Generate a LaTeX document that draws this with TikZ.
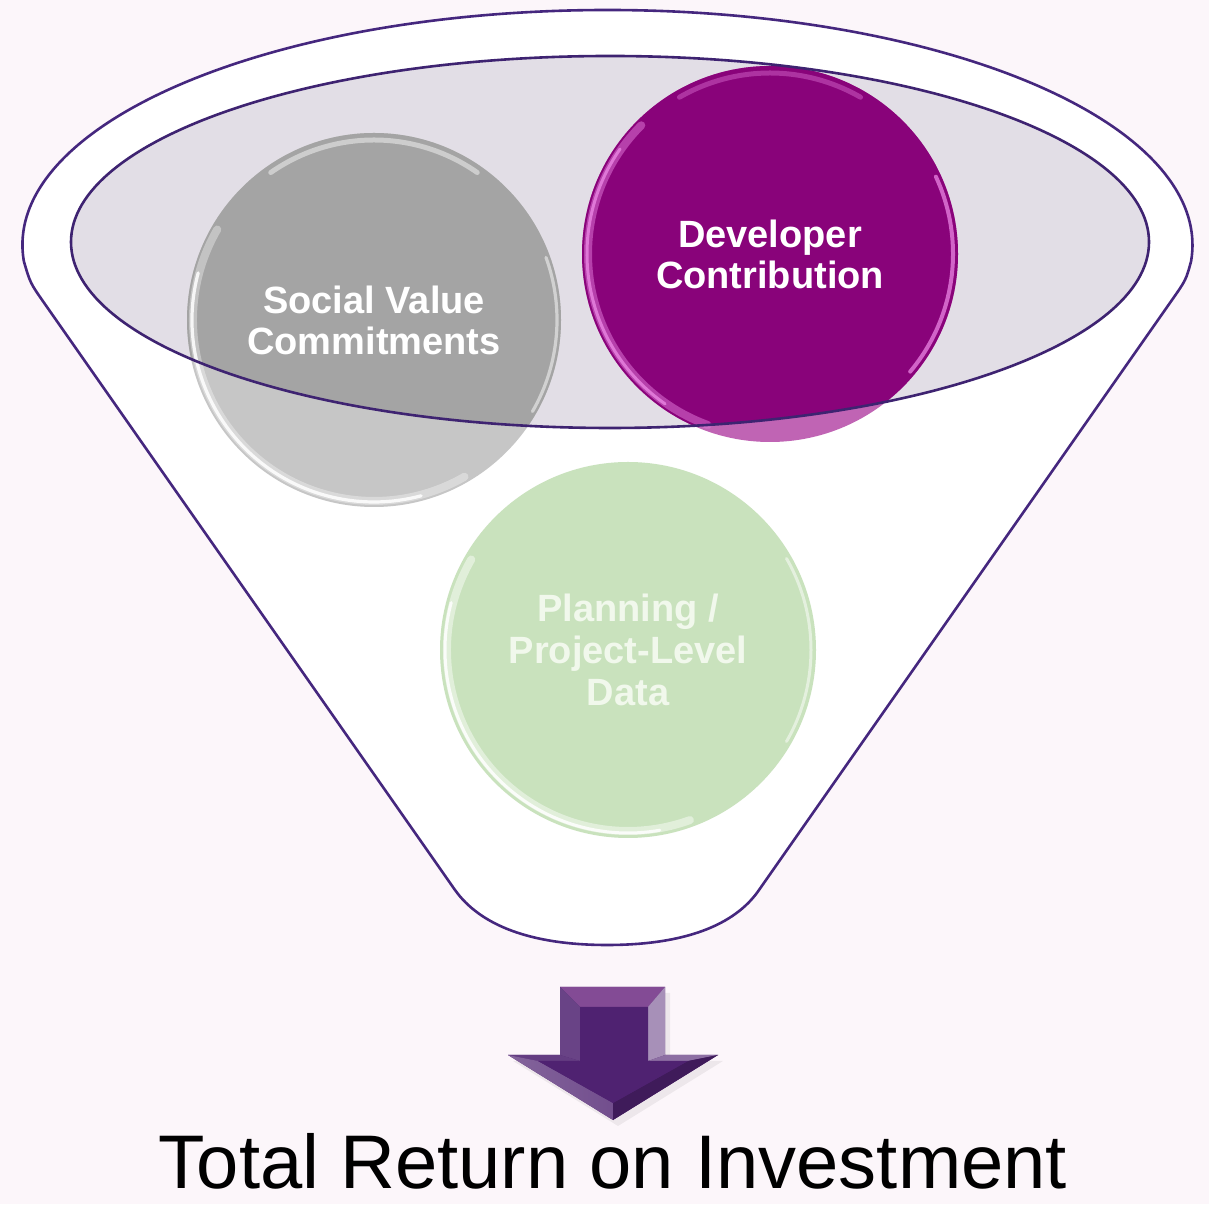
\documentclass[tikz,border=0pt]{standalone}
\usepackage{fontspec}
\setmainfont{Liberation Sans}
\begin{document}
\begin{tikzpicture}[x=0.5pt,y=0.5pt,
  funnelline/.style={draw=funnelcol, line width=1.3pt},
  bubbletext/.style={font=\fontsize{19}{20.5}\selectfont\bfseries, align=center, text=white, inner sep=0pt},
  glint/.style={draw=#1, line cap=round},
]
\definecolor{pagebg}{HTML}{FCF6FA}
\definecolor{funnelcol}{HTML}{45277E}
\definecolor{rimfill}{HTML}{E2DEE6}
\definecolor{grayin}{HTML}{A4A4A4}
\definecolor{grayout}{HTML}{C6C6C6}
\definecolor{magin}{HTML}{89037A}
\definecolor{magout}{HTML}{C064B4}
\definecolor{maglight}{HTML}{E47DDC}
\definecolor{greenfill}{HTML}{C9E2BD}
\definecolor{greentext}{HTML}{F1F8EC}
\definecolor{arrowface}{HTML}{4F2271}

\useasboundingbox (0,0) rectangle (1209,1204);
\fill[pagebg] (0,0) rectangle (1209,1204);

% funnel body: top rim arc with softened shoulders, straight sides, rounded spout
\def\funnelpath{(44.2,901) .. controls (30.2,921) .. (23.9,942.6)
  arc[start angle=184, end angle=-4, x radius=585, y radius=235]
  .. controls (1185.9,923.9) .. (1171.9,903.9)
  -- (759,314) .. controls (735,279) and (685,259) .. (607,259)
  .. controls (530,259) and (480,279) .. (455,314) -- cycle}
\fill[white] \funnelpath;

% inner rim of the funnel
\def\rimpath{(610,962) ellipse[x radius=539, y radius=186]}
\fill[rimfill] \rimpath;

\coordinate (sv) at (374,884);
\coordinate (dc) at (770,950);
\coordinate (pd) at (628,554);

% grey bubble
\fill[grayout] (sv) circle[radius=187];
\begin{scope}
  \clip \rimpath;
  \fill[grayin] (sv) circle[radius=187];
\end{scope}
\begin{scope}
  \clip (sv) circle[radius=187];
  \draw[glint=white, opacity=.35, line width=4pt] ([shift={(150:181)}]sv) arc[start angle=150, end angle=300, radius=181];
  \draw[glint=white, opacity=.85, line width=1.6pt] ([shift={(165:182)}]sv) arc[start angle=165, end angle=285, radius=182];
  \draw[glint=white, opacity=.45, line width=2.5pt] ([shift={(55:180)}]sv) arc[start angle=55, end angle=125, radius=180];
  \draw[glint=white, opacity=.5, line width=1.6pt] ([shift={(330:183)}]sv) arc[start angle=330, end angle=380, radius=183];
\end{scope}

% magenta bubble
\fill[magout] (dc) circle[radius=188];
\begin{scope}
  \clip \rimpath;
  \fill[magin] (dc) circle[radius=188];
\end{scope}
\begin{scope}
  \clip (dc) circle[radius=188];
  \draw[glint=maglight, opacity=.5, line width=4pt] ([shift={(135:182)}]dc) arc[start angle=135, end angle=250, radius=182];
  \draw[glint=maglight, opacity=.9, line width=1.5pt] ([shift={(145:183)}]dc) arc[start angle=145, end angle=235, radius=183];
  \draw[glint=maglight, opacity=.8, line width=2pt] ([shift={(-40:183)}]dc) arc[start angle=-40, end angle=25, radius=183];
  \draw[glint=maglight, opacity=.4, line width=2.5pt] ([shift={(60:181)}]dc) arc[start angle=60, end angle=120, radius=181];
\end{scope}

% green bubble
\fill[greenfill] (pd) circle[radius=188];
\begin{scope}
  \clip (pd) circle[radius=188];
  \draw[glint=white, opacity=.45, line width=4pt] ([shift={(150:181)}]pd) arc[start angle=150, end angle=290, radius=181];
  \draw[glint=white, opacity=.85, line width=1.5pt] ([shift={(165:183)}]pd) arc[start angle=165, end angle=280, radius=183];
  \draw[glint=white, opacity=.5, line width=1.5pt] ([shift={(-30:183)}]pd) arc[start angle=-30, end angle=30, radius=183];
\end{scope}

% outlines
\draw[funnelline] \funnelpath;
\draw[funnelline, draw=funnelcol!90!black] \rimpath;

% bubble labels
\node[bubbletext] (svt) at (sv) {Social Value\\Commitments};
\node[bubbletext] (dct) at (dc) {Developer\\Contribution};
\node[bubbletext, text=greentext, font=\fontsize{19}{20.8}\selectfont\bfseries] (pdt) at (pd) {Planning /\\Project-Level\\Data};

% bevelled down arrow
\coordinate (A) at (560,217); \coordinate (B) at (665,217);
\coordinate (C) at (665,149); \coordinate (D) at (718,149);
\coordinate (E) at (613,84);  \coordinate (F) at (508,149);
\coordinate (G) at (560,149);
\coordinate (a) at (580,197); \coordinate (b) at (648,197);
\coordinate (c) at (648,143); \coordinate (d) at (688,143);
\coordinate (e) at (613,101); \coordinate (f) at (538,143);
\coordinate (g) at (580,143);
\fill[black, opacity=.06] ([shift={(5,-6)}]A) -- ([shift={(5,-6)}]B) -- ([shift={(5,-6)}]C) -- ([shift={(5,-6)}]D) -- ([shift={(5,-6)}]E) -- ([shift={(5,-6)}]F) -- ([shift={(5,-6)}]G) -- cycle;
\fill[arrowface] (A) -- (B) -- (C) -- (D) -- (E) -- (F) -- (G) -- cycle;
\fill[fill=white!30!arrowface!75!violet] (A) -- (B) -- (b) -- (a) -- cycle;
\fill[fill=arrowface!85!white] (A) -- (a) -- (g) -- (G) -- cycle;
\fill[fill=white!50!arrowface] (B) -- (C) -- (c) -- (b) -- cycle;
\fill[fill=arrowface!88!white] (G) -- (g) -- (f) -- (F) -- cycle;
\fill[fill=arrowface!65!white] (C) -- (D) -- (d) -- (c) -- cycle;
\shade[left color=arrowface!70!white, middle color=white!82!violet, right color=arrowface!80!white] (F) -- (f) -- (e) -- (E) -- cycle;
\fill[fill=arrowface!80!black] (D) -- (E) -- (e) -- (d) -- cycle;
\fill[arrowface] (a) -- (b) -- (c) -- (d) -- (e) -- (f) -- (g) -- cycle;

\node[anchor=base, inner sep=0pt, font=\fontsize{38}{40}\selectfont] (roi) at (613,16) {Total Return on Investment};
\end{tikzpicture}
\end{document}
